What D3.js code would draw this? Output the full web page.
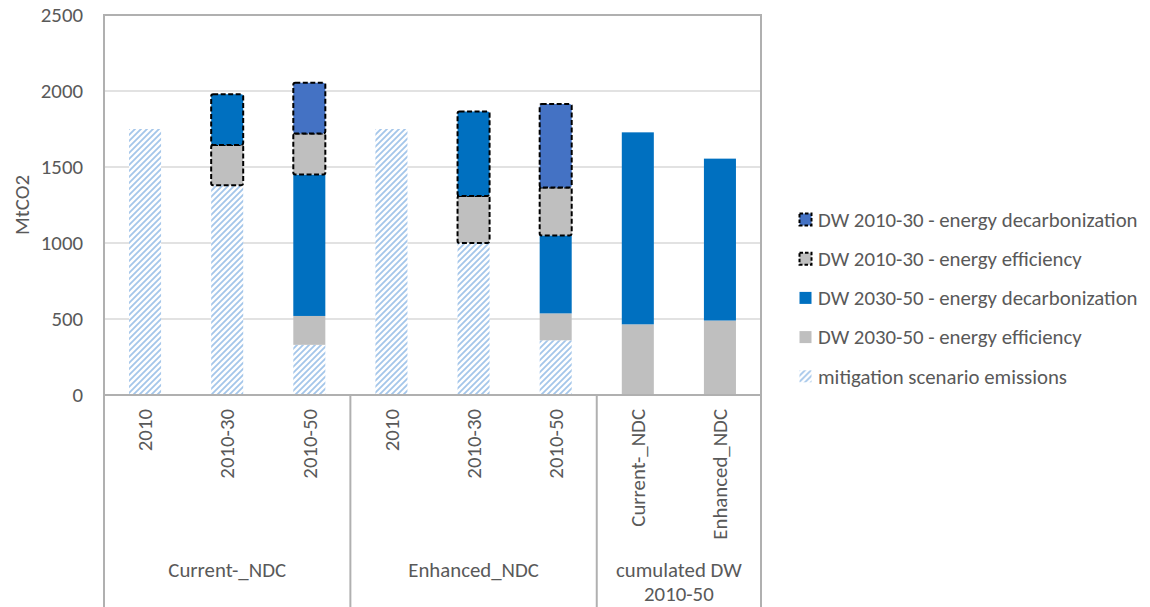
<!DOCTYPE html>
<html>
<head>
<meta charset="utf-8">
<script src="https://cdn.jsdelivr.net/npm/d3@7"></script>
<style>
  html, body { margin: 0; padding: 0; background: #fff; }
  svg { display: block; font-family: Carlito, Lato, sans-serif; }
</style>
</head>
<body>
<div id="chart"></div>
<script>
// categories (x axis, two levels)
const categories = ['c2010', 'c2030', 'c2050', 'e2010', 'e2030', 'e2050', 'kCur', 'kEnh'];
const tickLabels = ['2010', '2010-30', '2010-50', '2010', '2010-30', '2010-50', 'Current-_NDC', 'Enhanced_NDC'];
const groups = [
  { label: ['Current-_NDC'], from: 0, to: 3 },
  { label: ['Enhanced_NDC'], from: 3, to: 6 },
  { label: ['cumulated DW', '2010-50'], from: 6, to: 8 }
];

// series, stack order bottom -> top (MtCO2)
const seriesKeys = ['mitigation', 'eff3050', 'dec3050', 'eff1030', 'dec1030'];
const seriesNames = {
  mitigation: 'mitigation scenario emissions',
  eff3050: 'DW 2030-50 - energy efficiency',
  dec3050: 'DW 2030-50 - energy decarbonization',
  eff1030: 'DW 2010-30 - energy efficiency',
  dec1030: 'DW 2010-30 - energy decarbonization'
};
const mitigation = [1750, 1380, 330, 1750, 1000, 360, 0, 0];
const eff3050 = [0, 0, 190, 0, 0, 177, 465, 490];
const dec3050 = [0, 0, 930, 0, 0, 513, 1263, 1065];
const eff1030 = [0, 265, 270, 0, 310, 315, 0, 0];
const dec1030 = [0, 333, 335, 0, 555, 550, 0, 0];

const yTicks = [0, 500, 1000, 1500, 2000, 2500];
const legendOrder = ['dec1030', 'eff1030', 'dec3050', 'eff3050', 'mitigation'];

const table = categories.map((c, i) => ({
  cat: c,
  mitigation: mitigation[i],
  eff3050: eff3050[i],
  dec3050: dec3050[i],
  eff1030: eff1030[i],
  dec1030: dec1030[i]
}));

const W = 1150, H = 607;
const plot = { left: 104, top: 15, right: 761, bottom: 395 };
const textColor = '#595959';
const fontSize = 20.8;

const fills = {
  mitigation: 'url(#hatch)',
  eff3050: '#bfbfbf',
  dec3050: '#0070c0',
  eff1030: '#bfbfbf',
  dec1030: '#4472c4'
};
const dashed = key => key === 'eff1030' || key === 'dec1030';
// the 2010-30 decarbonization points were recoloured in the original workbook
const fillFor = (key, cat) => (key === 'dec1030' && (cat === 'c2030' || cat === 'e2030') ? '#0070c0' : fills[key]);

const svg = d3.select('#chart').append('svg').attr('width', W).attr('height', H);

const defs = svg.append('defs');
const pat = defs
  .append('pattern')
  .attr('id', 'hatch')
  .attr('patternUnits', 'userSpaceOnUse')
  .attr('width', 6)
  .attr('height', 6);
pat.append('rect').attr('width', 6).attr('height', 6).attr('fill', '#fff');
pat
  .append('path')
  .attr('d', 'M-1,1 l2,-2 M0,6 l6,-6 M5,7 l2,-2')
  .attr('stroke', '#a4c6ea')
  .attr('stroke-width', 1.8);

const x = d3
  .scaleBand()
  .domain(categories)
  .range([plot.left, plot.right])
  .paddingInner(0.61)
  .paddingOuter(0.305);

const y = d3.scaleLinear().domain([0, 2500]).range([plot.bottom, plot.top]);

// gridlines
svg
  .append('g')
  .selectAll('line')
  .data(yTicks.slice(1, -1))
  .join('line')
  .attr('x1', plot.left)
  .attr('x2', plot.right)
  .attr('y1', d => y(d))
  .attr('y2', d => y(d))
  .attr('stroke', '#d9d9d9')
  .attr('stroke-width', 1.5);

// y axis labels
const yAxis = svg
  .append('g')
  .attr('transform', `translate(${plot.left},0)`)
  .call(d3.axisLeft(y).tickValues(yTicks).tickFormat(d3.format('d')).tickSize(0).tickPadding(21));
yAxis.select('.domain').remove();
yAxis
  .selectAll('text')
  .attr('fill', textColor)
  .attr('font-size', fontSize)
  .attr('font-family', 'Carlito, Lato, sans-serif');

svg
  .append('text')
  .attr('transform', `translate(22,${(plot.top + plot.bottom) / 2}) rotate(-90)`)
  .attr('text-anchor', 'middle')
  .attr('dy', '0.35em')
  .attr('fill', textColor)
  .attr('font-size', fontSize)
  .text('MtCO2');

// stacked bars
const stacked = d3.stack().keys(seriesKeys)(table);
const layers = svg
  .append('g')
  .selectAll('g')
  .data(stacked)
  .join('g');

layers
  .selectAll('rect')
  .data(layer => layer.map(d => ({ key: layer.key, cat: d.data.cat, y0: d[0], y1: d[1] })).filter(d => d.y1 > d.y0))
  .join('rect')
  .attr('x', d => x(d.cat))
  .attr('width', x.bandwidth())
  .attr('y', d => y(d.y1))
  .attr('height', d => y(d.y0) - y(d.y1))
  .attr('fill', d => fillFor(d.key, d.cat))
  .attr('rx', d => (dashed(d.key) ? 2 : 0))
  .attr('stroke', d => (dashed(d.key) ? '#000' : 'none'))
  .attr('stroke-width', 2)
  .attr('stroke-dasharray', '5,2.5');

// frame and category separators
const frame = svg.append('g').attr('stroke', '#b0b0b0').attr('stroke-width', 2).attr('fill', 'none');
frame
  .append('path')
  .attr('d', `M${plot.left},${H} V${plot.top} H${plot.right} V${H}`);
frame
  .append('line')
  .attr('x1', plot.left)
  .attr('x2', plot.right)
  .attr('y1', plot.bottom)
  .attr('y2', plot.bottom);
frame
  .selectAll('line.sep')
  .data(groups.slice(1))
  .join('line')
  .attr('class', 'sep')
  .attr('x1', d => x.step() * d.from + plot.left)
  .attr('x2', d => x.step() * d.from + plot.left)
  .attr('y1', plot.bottom)
  .attr('y2', H);

// level 1 tick labels
svg
  .append('g')
  .selectAll('text')
  .data(categories)
  .join('text')
  .attr('transform', (d, i) => `translate(${x(d) + x.bandwidth() / 2},409) rotate(-90)`)
  .attr('dy', '0.35em')
  .attr('text-anchor', 'end')
  .attr('fill', textColor)
  .attr('font-size', fontSize)
  .text((d, i) => tickLabels[i]);

// level 2 group labels
const gl = svg
  .append('g')
  .selectAll('text')
  .data(groups)
  .join('text')
  .attr('x', d => plot.left + x.step() * (d.from + d.to) / 2)
  .attr('y', 577)
  .attr('text-anchor', 'middle')
  .attr('fill', textColor)
  .attr('font-size', fontSize);
gl.selectAll('tspan')
  .data(d => d.label)
  .join('tspan')
  .attr('x', function () {
    return d3.select(this.parentNode).attr('x');
  })
  .attr('dy', (d, i) => (i === 0 ? 0 : 24))
  .text(d => d);

// legend
const legend = svg
  .append('g')
  .selectAll('g')
  .data(legendOrder)
  .join('g')
  .attr('transform', (d, i) => `translate(799,${219.5 + i * 39.2})`);
legend
  .append('rect')
  .attr('x', 0.5)
  .attr('y', -6)
  .attr('width', 12)
  .attr('height', 12)
  .attr('fill', d => fills[d])
  .attr('stroke', d => (dashed(d) ? '#000' : 'none'))
  .attr('stroke-width', 2)
  .attr('stroke-dasharray', '3.5,2');
legend
  .append('text')
  .attr('x', 19)
  .attr('dy', '0.35em')
  .attr('fill', textColor)
  .attr('font-size', fontSize)
  .text(d => seriesNames[d]);
</script>
</body>
</html>
